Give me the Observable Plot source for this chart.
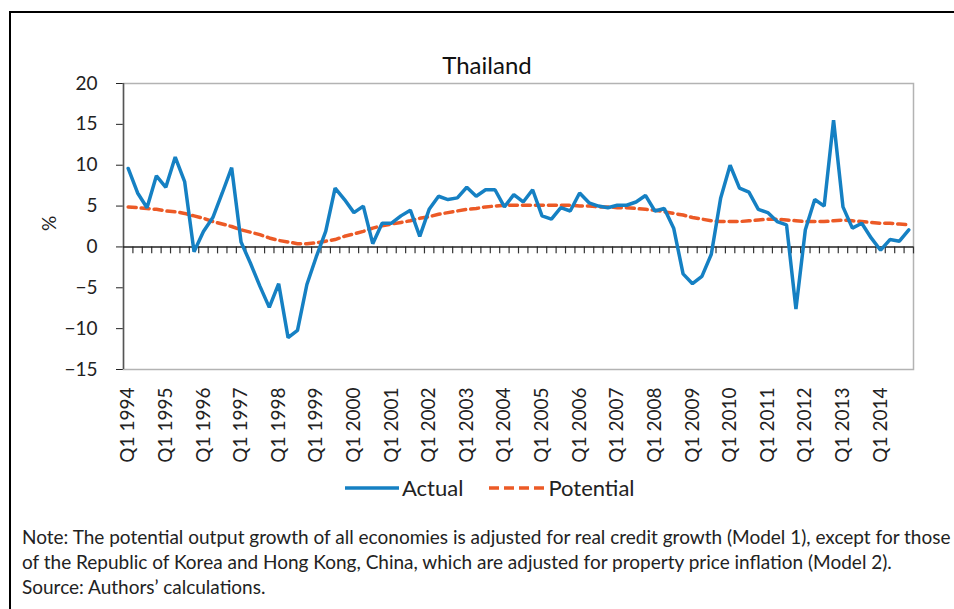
<!DOCTYPE html>
<html>
<head>
<meta charset="utf-8">
<script src="https://cdn.jsdelivr.net/npm/d3@7"></script>
<script src="https://cdn.jsdelivr.net/npm/@observablehq/plot@0.6"></script>
<style>
  html, body { margin: 0; padding: 0; background: #fff; overflow: hidden; }
  body { width: 954px; height: 609px; position: relative; font-family: Lato, "Open Sans", sans-serif; color: #222; }
  #frame { position: absolute; left: 9px; top: 11px; width: 1000px; height: 700px; border: 2px solid #000; box-sizing: border-box; }
  #title { position: absolute; left: 0; width: 974px; top: 50px; text-align: center; font-size: 24px; color: #111; }
  #chart { position: absolute; left: 0; top: 0; }
  #ylab { position: absolute; left: 41px; top: 212px; font-size: 19px; transform: rotate(-90deg); transform-origin: center; }
  #legend { position: absolute; top: 474px; left: 345px; font-size: 22px; display: flex; align-items: center; color: #222; }
  #legend .item { display: flex; align-items: center; margin-right: 26px; }
  #legend svg { margin-right: 3px; }
  #note { position: absolute; left: 22px; top: 524px; font-size: 19px; line-height: 25px; color: #222; white-space: nowrap; }
</style>
</head>
<body>
<div id="frame"></div>
<div id="title">Thailand</div>
<div id="chart"></div>
<div id="ylab">%</div>
<div id="legend"></div>
<div id="note"></div>
<script>
// ---- data ----
const years = [1994,1995,1996,1997,1998,1999,2000,2001,2002,2003,2004,2005,2006,2007,2008,2009,2010,2011,2012,2013,2014];
const quarterNames = ["Q1","Q2","Q3","Q4"];
const quarters = years.flatMap(y => quarterNames.map(q => `${q} ${y}`));

const actual = [
  9.6, 6.6, 4.8, 8.7, 7.3, 11.0, 8.0, -0.6,
  1.9, 3.6, 6.6, 9.7, 0.6, -2.0, -4.8, -7.4,
  -4.5, -11.1, -10.2, -4.6, -1.2, 1.9, 7.2, 5.8,
  4.2, 5.0, 0.4, 2.9, 2.9, 3.8, 4.5, 1.3,
  4.6, 6.2, 5.8, 6.0, 7.3, 6.2, 7.0, 7.0,
  4.9, 6.4, 5.5, 7.0, 3.8, 3.4, 4.8, 4.4,
  6.6, 5.4, 5.0, 4.8, 5.1, 5.1, 5.5, 6.3,
  4.4, 4.7, 2.3, -3.3, -4.5, -3.6, -0.9, 6.0,
  10.0, 7.2, 6.7, 4.6, 4.2, 3.1, 2.7, -7.6,
  2.1, 5.8, 5.0, 15.5, 4.9, 2.3, 2.9, 1.1,
  -0.4, 0.9, 0.7, 2.1
];
const potential = [
  4.9, 4.8, 4.7, 4.6, 4.4, 4.3, 4.1, 3.8,
  3.5, 3.1, 2.8, 2.5, 2.1, 1.8, 1.5, 1.1,
  0.8, 0.6, 0.4, 0.4, 0.5, 0.7, 0.9, 1.3,
  1.6, 1.9, 2.3, 2.6, 2.8, 3.0, 3.2, 3.5,
  3.7, 4.0, 4.2, 4.4, 4.6, 4.7, 4.9, 5.0,
  5.1, 5.1, 5.1, 5.1, 5.1, 5.1, 5.1, 5.1,
  5.0, 5.0, 4.9, 4.9, 4.8, 4.8, 4.7, 4.6,
  4.5, 4.3, 4.1, 3.9, 3.6, 3.4, 3.2, 3.1,
  3.1, 3.1, 3.2, 3.3, 3.4, 3.4, 3.3, 3.2,
  3.1, 3.1, 3.1, 3.2, 3.3, 3.2, 3.1, 3.0,
  2.9, 2.9, 2.8, 2.7
];
const yTicks = [-15, -10, -5, 0, 5, 10, 15, 20];
const seriesNames = ["Actual", "Potential"];
const colors = ["#1580c3", "#ec5a26"];
const noteLines = [
  "Note: The potential output growth of all economies is adjusted for real credit growth (Model 1), except for those",
  "of the Republic of Korea and Hong Kong, China, which are adjusted for property price inflation (Model 2).",
  "Source: Authors\u2019 calculations."
];

// ---- build ----
const rows = quarters.map((q, i) => ({i, q, actual: actual[i], potential: potential[i]}));
const q1Index = quarters.map((q, i) => i).filter(i => quarters[i].startsWith("Q1"));
const boundaries = quarters.map((q, i) => i + 0.5);
const n = quarters.length;

const chart = Plot.plot({
  width: 954,
  height: 480,
  marginLeft: 123,
  marginRight: 41,
  marginTop: 83,
  marginBottom: 111,
  style: {fontFamily: "Lato, 'Open Sans', sans-serif", fontSize: "19px", color: "#222", background: "transparent"},
  x: {
    domain: [-0.5, n - 0.5],
    ticks: q1Index,
    tickFormat: i => quarters[i],
    tickSize: 0,
    tickPadding: 18,
    tickRotate: -90,
    label: null
  },
  y: {
    domain: [-15, 20],
    ticks: yTicks,
    tickSize: 7,
    tickPadding: 19,
    tickFormat: d => d < 0 ? "\u2212" + Math.abs(d) : String(d),
    label: null
  },
  marks: [
    Plot.frame({stroke: "#b3b3b3", strokeWidth: 1.5}),
    Plot.ruleX([-0.5], {stroke: "#555", strokeWidth: 1.5}),
    Plot.ruleX(boundaries, {x: d => d, y1: 0, y2: -0.85, stroke: "#333", strokeWidth: 1.2}),
    Plot.ruleY([0], {stroke: "#222", strokeWidth: 1.5}),
    Plot.line(rows, {x: "i", y: "potential", stroke: colors[1], strokeWidth: 3.5, strokeDasharray: "8,5"}),
    Plot.line(rows, {x: "i", y: "actual", stroke: colors[0], strokeWidth: 3.5, strokeLinejoin: "miter"})
  ]
});
document.getElementById("chart").appendChild(chart);

// legend
const legend = document.getElementById("legend");
seriesNames.forEach((name, k) => {
  const item = document.createElement("div");
  item.className = "item";
  const w = k === 0 ? 54 : 56;
  const dash = k === 0 ? "" : ` stroke-dasharray="10,5"`;
  item.innerHTML = `<svg width="${w}" height="10"><line x1="0" x2="${w}" y1="5" y2="5" stroke="${colors[k]}" stroke-width="3.5"${dash}/></svg><span>${name}</span>`;
  legend.appendChild(item);
});

// note
document.getElementById("note").innerHTML = noteLines.map(l => `<div>${l}</div>`).join("");
</script>
</body>
</html>
